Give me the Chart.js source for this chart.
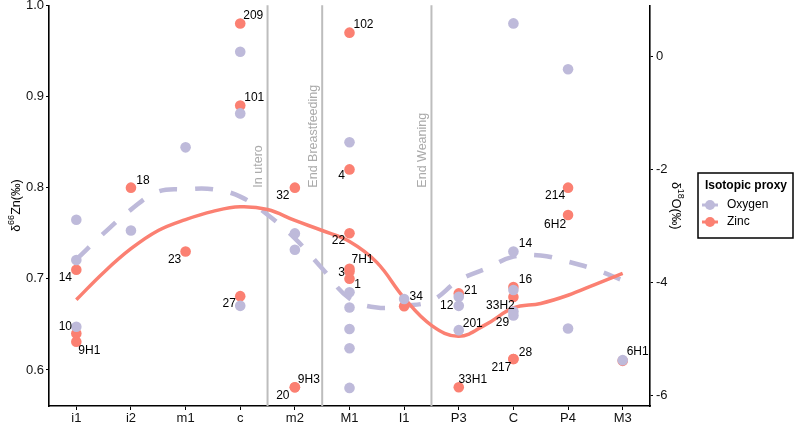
<!DOCTYPE html>
<html><head><meta charset="utf-8">
<script src="https://cdn.jsdelivr.net/npm/chart.js@4/dist/chart.umd.min.js"></script>
<style>html,body{margin:0;padding:0;background:#fff}#wrap{width:798px;height:427px}</style>
</head><body><div id="wrap"><canvas id="c" width="798" height="427"></canvas></div>
<script>
// ---------- data ----------
const categories = ['i1','i2','m1','c','m2','M1','I1','P3','C','P4','M3'];

const zincTeeth  = ['i1','i1','i1','i2','m1','c','c','c','m2','m2','m2','M1','M1','M1','M1','M1','M1','I1','P3','P3','C','C','C','C','P4','P4','M3'];
const zincValues = [0.710,0.640,0.631,0.800,0.730,0.980,0.890,0.681,0.800,0.581,0.581,0.970,0.820,0.750,0.711,0.708,0.700,0.670,0.684,0.581,0.691,0.680,0.612,0.612,0.800,0.770,0.610];
const zincLabels = ['14','','9H1','18','23','209','101','27','32','9H3','20','102','4','22','7H1','3','1','','','33H1','16','','28','217','214','6H2',''];

const oxygenTeeth  = ['i1','i1','i1','i2','m1','c','c','c','m2','m2','M1','M1','M1','M1','M1','M1','I1','P3','P3','P3','C','C','C','C','C','P4','P4','M3'];
const oxygenValues = [-2.89,-3.60,-4.78,-3.08,-1.61,0.08,-1.01,-4.41,-3.13,-3.42,-1.52,-4.17,-4.44,-4.82,-5.16,-5.86,-4.29,-4.25,-4.41,-4.84,0.58,-3.45,-4.13,-4.51,-4.58,-0.23,-4.81,-5.37];
const oxygenLabels = ['','','10','','','','','','','','','','','','','','34','21','12','201','','14','','33H2','29','','','6H1'];

// smoothed trend (category position, value)
const zincCurveAt     = [0,0.5,1,1.5,2,2.5,3,3.5,4,4.5,5,5.5,6,6.5,7,7.5,8,8.5,9,9.5,10];
const zincCurveValues = [0.677,0.707,0.733,0.753,0.765,0.774,0.779,0.776,0.764,0.753,0.741,0.718,0.679,0.649,0.637,0.650,0.668,0.673,0.682,0.694,0.706];
const oxygenCurveAt     = [0,0.5,1,1.5,2,2.5,3,3.5,4,4.5,5,5.5,6,6.5,7,7.5,8,8.5,9,9.5,10];
const oxygenCurveValues = [-3.59,-3.13,-2.71,-2.39,-2.35,-2.35,-2.48,-2.80,-3.22,-3.75,-4.28,-4.44,-4.41,-4.32,-3.96,-3.75,-3.54,-3.52,-3.63,-3.77,-3.96];

const zincTicks   = [0.6,0.7,0.8,0.9,1.0];
const oxygenTicks = [-6,-4,-2,0];

const phaseAfter  = ['c','m2','I1'];
const phaseLabels = ['In utero','End Breastfeeding','End Weaning'];

// ---------- styling / layout (not data) ----------
const ZINC = '#fb8072', OXY = '#bebada';
const labelNudge = {
  'z:14':[-11,8],'z:9H1':[13,9],'z:18':[12,-7],'z:23':[-11,8],'z:209':[13,-8],'z:101':[14,-8],'z:27':[-11,8],
  'z:32':[-12,8],'z:9H3':[14,-8],'z:20':[-12,8],'z:102':[14,-8],'z:4':[-8,6],'z:22':[-11,7],'z:7H1':[13,-9],
  'z:3':[-8,1],'z:1':[8,6],'z:33H1':[14,-8],'z:16':[12,-7],'z:28':[12,-6],'z:217':[-12,9],'z:214':[-13,8],'z:6H2':[-13,10],
  'o:10':[-11,0],'o:34':[12,-2],'o:21':[12,-6],'o:12':[-12,0],'o:201':[14,-6],'o:14':[12,-8],'o:33H2':[-13,-6],'o:29':[-11,7],'o:6H1':[15,-8]
};
const FONT = "'Liberation Sans', Arial, sans-serif";
Chart.defaults.font.family = FONT;

const pos = t => categories.indexOf(t);
const zincPts   = zincTeeth.map((t,i)=>({x:pos(t), y:zincValues[i]}));
const oxygenPts = oxygenTeeth.map((t,i)=>({x:pos(t), y:oxygenValues[i]}));
const zincCurve = zincCurveAt.map((x,i)=>({x, y:zincCurveValues[i]}));
const oxyCurve  = oxygenCurveAt.map((x,i)=>({x, y:oxygenCurveValues[i]}));

const phasePlugin = {
  id:'phases',
  beforeDatasetsDraw(chart){
    const {ctx, chartArea:a, scales} = chart;
    ctx.save();
    phaseAfter.forEach((c,i)=>{
      const x = scales.x.getPixelForValue(pos(c)+0.5);
      ctx.strokeStyle='#bdbdbd'; ctx.lineWidth=2;
      ctx.beginPath(); ctx.moveTo(x,a.top); ctx.lineTo(x,a.bottom); ctx.stroke();
      const yb = scales.yZ.getPixelForValue(0.8);
      ctx.save();
      ctx.translate(x-9, yb);
      ctx.rotate(-Math.PI/2);
      ctx.fillStyle='#ababab'; ctx.font='12.5px '+FONT;
      ctx.textAlign='left'; ctx.textBaseline='middle';
      ctx.fillText(phaseLabels[i],0,0);
      ctx.restore();
    });
    ctx.restore();
  }
};

function drawSup(ctx, parts, cx, cy){
  let w=0;
  parts.forEach(p=>{ctx.font=(p[1]?'9px ':'12.5px ')+FONT; w+=ctx.measureText(p[0]).width;});
  let x=cx-w/2;
  parts.forEach(p=>{
    ctx.font=(p[1]?'9px ':'12.5px ')+FONT;
    ctx.fillText(p[0], x, p[1]?cy-5:cy);
    x+=ctx.measureText(p[0]).width;
  });
}

const decorPlugin = {
  id:'decor',
  afterDatasetsDraw(chart){
    const {ctx, scales} = chart;
    ctx.save();
    ctx.fillStyle='#000'; ctx.font='12px '+FONT; ctx.textAlign='center'; ctx.textBaseline='middle';
    const put = (pts, labels, key, scale)=>{
      labels.forEach((l,i)=>{
        if(!l) return;
        const n = labelNudge[key+':'+l] || [10,-8];
        const px = scales.x.getPixelForValue(pts[i].x), py = scales[scale].getPixelForValue(pts[i].y);
        ctx.fillText(l, px+n[0], py+n[1]);
      });
    };
    put(zincPts, zincLabels, 'z', 'yZ');
    put(oxygenPts, oxygenLabels, 'o', 'yO');
    ctx.restore();
  },
  afterDraw(chart){
    const {ctx, chartArea:a} = chart;
    const cy = (a.top+a.bottom)/2;
    ctx.save();
    ctx.fillStyle='#000'; ctx.textAlign='left'; ctx.textBaseline='middle';
    ctx.save(); ctx.translate(17, cy); ctx.rotate(-Math.PI/2);
    drawSup(ctx, [['δ',0],['66',1],['Zn(‰)',0]], 0, 0); ctx.restore();
    ctx.save(); ctx.translate(a.right+25, cy); ctx.rotate(Math.PI/2);
    drawSup(ctx, [['δ',0],['18',1],['O(‰)',0]], 0, 0); ctx.restore();
    // legend
    const lx=698, ly=173;
    ctx.strokeStyle='#000'; ctx.lineWidth=1.5; ctx.strokeRect(lx,ly,95,65);
    ctx.font='bold 12px '+FONT; ctx.fillText('Isotopic proxy', lx+7, ly+13);
    [['Oxygen',OXY],['Zinc',ZINC]].forEach((e,i)=>{
      const y = ly+32+i*17;
      ctx.strokeStyle=e[1]; ctx.lineWidth=3;
      ctx.beginPath(); ctx.moveTo(lx+4,y); ctx.lineTo(lx+20,y); ctx.stroke();
      ctx.fillStyle=e[1]; ctx.beginPath(); ctx.arc(lx+12,y,5,0,Math.PI*2); ctx.fill();
      ctx.fillStyle='#000'; ctx.font='12px '+FONT; ctx.fillText(e[0], lx+29, y);
    });
    ctx.restore();
  }
};

const vFit = w => s => { s.width = w; s.paddingTop = 0; s.paddingBottom = 0; };

new Chart(document.getElementById('c'), {
  type:'scatter',
  data:{datasets:[
    {label:'Oxygen', data:oxygenPts, yAxisID:'yO', backgroundColor:OXY, borderColor:OXY, pointRadius:5.3, borderWidth:0, order:1},
    {label:'Zinc', data:zincPts, yAxisID:'yZ', backgroundColor:ZINC, borderColor:ZINC, pointRadius:5.3, borderWidth:0, order:2},
    {label:'Zinc trend', data:zincCurve, yAxisID:'yZ', showLine:true, borderColor:ZINC, borderWidth:3.5, pointRadius:0, tension:0.4, order:3},
    {label:'Oxygen trend', data:oxyCurve, yAxisID:'yO', showLine:true, borderColor:OXY, borderWidth:4.5, borderDash:[18,18], borderCapStyle:'butt', pointRadius:0, tension:0.4, order:4}
  ]},
  options:{
    responsive:false, animation:false, events:[],
    layout:{padding:{top:5,left:0,right:0,bottom:0}},
    plugins:{legend:{display:false}, tooltip:{enabled:false}},
    scales:{
      x:{type:'linear', min:-0.5, max:10.5,
        afterBuildTicks:s=>{s.ticks=categories.map((c,i)=>({value:i}));},
        afterFit:s=>{s.height=21; s.paddingLeft=0; s.paddingRight=0;},
        ticks:{autoSkip:false, maxRotation:0, color:'#111', font:{size:13}, padding:1, callback:v=>categories[v]},
        grid:{drawOnChartArea:false, drawTicks:true, tickLength:4, color:'#000', lineWidth:1},
        border:{display:true, color:'#000', width:1.6}},
      yZ:{type:'linear', position:'left', min:0.5605, max:1.0,
        afterBuildTicks:s=>{s.ticks=zincTicks.map(v=>({value:v}));},
        afterFit:vFit(49),
        ticks:{color:'#111', font:{size:13}, padding:2, callback:v=>v.toFixed(1)},
        grid:{drawOnChartArea:false, drawTicks:true, tickLength:3, color:'#000'},
        border:{display:true, color:'#000', width:1.6}},
      yO:{type:'linear', position:'right', min:-6.18, max:0.9,
        afterBuildTicks:s=>{s.ticks=oxygenTicks.map(v=>({value:v}));},
        afterFit:vFit(148),
        ticks:{color:'#111', font:{size:13}, padding:3, callback:v=>String(v)},
        grid:{drawOnChartArea:false, drawTicks:true, tickLength:3, color:'#000'},
        border:{display:true, color:'#000', width:1.6}}
    }
  },
  plugins:[phasePlugin, decorPlugin]
});
</script></body></html>
